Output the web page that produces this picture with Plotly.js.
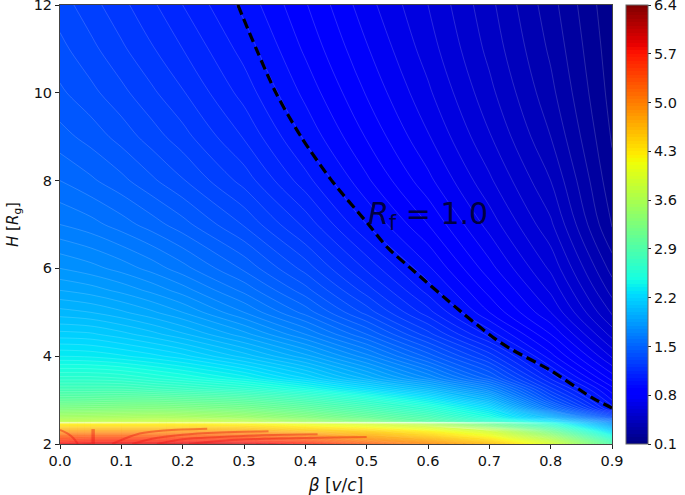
<!DOCTYPE html>
<html>
<head>
<meta charset="utf-8">
<script src="https://cdn.plot.ly/plotly-3.0.1.min.js"></script>
<style>html,body{margin:0;padding:0;background:#fff}#chart{width:685px;height:495px}</style>
</head>
<body>
<div id="chart"></div>
<script>
const betaValues = [0, 0.05, 0.1, 0.15, 0.2, 0.3, 0.4, 0.5, 0.6, 0.7, 0.8, 0.9];
const heightValues = [2, 2.1, 2.2, 2.3, 2.4, 2.47, 2.5, 2.6, 2.8, 3, 3.25, 3.5, 4, 4.5, 5, 5.5, 6, 7, 8, 9, 10, 11, 12];
const reflectionRows = [
  [5.85, 5.90, 5.90, 5.90, 5.95, 5.95, 5.70, 5.30, 4.95, 4.60, 3.95, 2.90],
  [5.50, 5.55, 5.55, 5.55, 5.55, 5.50, 5.30, 4.95, 4.70, 4.35, 3.70, 2.70],
  [5.20, 5.20, 5.20, 5.20, 5.20, 5.15, 4.95, 4.70, 4.45, 4.10, 3.40, 2.45],
  [4.80, 4.80, 4.80, 4.80, 4.80, 4.75, 4.55, 4.45, 4.20, 3.85, 3.10, 2.20],
  [4.40, 4.40, 4.40, 4.40, 4.40, 4.38, 4.25, 4.10, 3.85, 3.30, 2.75, 1.95],
  [4.20, 4.20, 4.20, 4.20, 4.20, 4.15, 4.00, 3.85, 3.55, 3.05, 2.50, 1.78],
  [3.75, 3.76, 3.80, 3.85, 3.85, 3.78, 3.55, 3.30, 3.00, 2.70, 2.35, 1.70],
  [3.55, 3.56, 3.58, 3.60, 3.58, 3.48, 3.30, 3.08, 2.85, 2.50, 2.02, 1.38],
  [3.25, 3.26, 3.27, 3.28, 3.26, 3.18, 3.03, 2.83, 2.60, 2.27, 1.60, 1.03],
  [3.02, 3.03, 3.05, 3.05, 3.02, 2.95, 2.80, 2.60, 2.35, 2.00, 1.38, 0.95],
  [2.80, 2.80, 2.80, 2.76, 2.72, 2.62, 2.46, 2.25, 2.02, 1.72, 1.22, 0.87],
  [2.62, 2.62, 2.60, 2.55, 2.50, 2.38, 2.20, 1.98, 1.75, 1.47, 1.09, 0.78],
  [2.35, 2.34, 2.31, 2.27, 2.22, 2.08, 1.92, 1.72, 1.48, 1.23, 0.92, 0.64],
  [2.17, 2.16, 2.12, 2.07, 2.01, 1.87, 1.70, 1.50, 1.27, 1.03, 0.80, 0.53],
  [2.02, 2.00, 1.96, 1.91, 1.85, 1.70, 1.53, 1.33, 1.12, 0.90, 0.70, 0.44],
  [1.90, 1.875, 1.835, 1.785, 1.725, 1.585, 1.42, 1.225, 1.03, 0.83, 0.64, 0.38],
  [1.80, 1.77, 1.73, 1.68, 1.62, 1.49, 1.33, 1.14, 0.96, 0.77, 0.59, 0.33],
  [1.65, 1.62, 1.575, 1.525, 1.47, 1.345, 1.185, 1.00, 0.85, 0.68, 0.51, 0.245],
  [1.55, 1.51, 1.465, 1.41, 1.355, 1.23, 1.07, 0.91, 0.765, 0.61, 0.45, 0.215],
  [1.47, 1.43, 1.38, 1.325, 1.27, 1.145, 0.99, 0.845, 0.705, 0.555, 0.40, 0.195],
  [1.41, 1.365, 1.315, 1.26, 1.205, 1.08, 0.935, 0.795, 0.66, 0.515, 0.365, 0.18],
  [1.365, 1.315, 1.26, 1.205, 1.15, 1.03, 0.89, 0.755, 0.625, 0.485, 0.34, 0.17],
  [1.325, 1.27, 1.215, 1.16, 1.10, 0.985, 0.855, 0.72, 0.60, 0.465, 0.32, 0.16]
];
const unityBeta = [0.29, 0.32, 0.352, 0.393, 0.443, 0.503, 0.535, 0.572, 0.655, 0.712, 0.738, 0.798, 0.868, 0.9];
const unityHeight = [12, 11, 10, 9, 8, 7, 6.46, 6, 5, 4.37, 4.14, 3.69, 3.05, 2.82];
const moireABeta = [0, 0.012, 0.022, 0.029];
const moireAHeight = [2.32, 2.24, 2.13, 2.0];
const moireBBeta = [0.054, 0.054];
const moireBHeight = [2.0, 2.34];
const moireCBeta = [0.085, 0.105, 0.13, 0.17, 0.24];
const moireCHeight = [2.0, 2.12, 2.24, 2.31, 2.35];
const moireDBeta = [0.118, 0.15, 0.2, 0.26, 0.34];
const moireDHeight = [2.0, 2.12, 2.21, 2.26, 2.29];
const moireEBeta = [0.158, 0.2, 0.26, 0.33, 0.42];
const moireEHeight = [2.0, 2.11, 2.16, 2.2, 2.22];
const moireFBeta = [0.21, 0.27, 0.34, 0.42, 0.5];
const moireFHeight = [2.0, 2.08, 2.12, 2.14, 2.16];
const colorTicks = [0.1, 0.8, 1.5, 2.2, 2.9, 3.6, 4.3, 5.0, 5.7, 6.4];
const colorTickLabels = ['0.1', '0.8', '1.5', '2.2', '2.9', '3.6', '4.3', '5.0', '5.7', '6.4'];
const betaTicks = [0, 0.1, 0.2, 0.3, 0.4, 0.5, 0.6, 0.7, 0.8, 0.9];
const heightTicks = [2, 4, 6, 8, 10, 12];

const jet = [[0,'rgb(0,0,128)'],[0.11,'rgb(0,0,255)'],[0.125,'rgb(0,0,255)'],[0.34,'rgb(0,219,255)'],[0.35,'rgb(0,230,247)'],[0.375,'rgb(21,255,226)'],[0.64,'rgb(239,255,8)'],[0.65,'rgb(247,246,0)'],[0.66,'rgb(255,236,0)'],[0.89,'rgb(255,19,0)'],[0.91,'rgb(232,0,0)'],[1,'rgb(128,0,0)']];
const font = 'DejaVu Sans, sans-serif';
const levels = {start: 0.1, end: 6.4, size: 0.05};

const fill = {
  type: 'contour', x: betaValues, y: heightValues, z: reflectionRows,
  colorscale: jet, zmin: 0.1, zmax: 6.4, zauto: false, autocontour: false,
  contours: Object.assign({coloring: 'fill', showlines: false}, levels),
  line: {width: 0},
  hoverinfo: 'skip',
  colorbar: {
    x: 1.026, xanchor: 'left', xpad: 0, y: 0.5, yanchor: 'middle', ypad: 0,
    thickness: 22, thicknessmode: 'pixels', len: 1, lenmode: 'fraction',
    tickmode: 'array', tickvals: colorTicks, ticktext: colorTickLabels,
    ticks: 'outside', ticklen: 3, tickwidth: 1, tickcolor: '#222',
    ticklabeloverflow: 'allow',
    tickfont: {family: font, size: 14.5, color: '#111'},
    outlinecolor: '#666', outlinewidth: 1
  }
};
const lines = {
  type: 'contour', x: betaValues, y: heightValues, z: reflectionRows,
  showscale: false, autocontour: false,
  contours: Object.assign({coloring: 'none', showlines: true}, levels),
  line: {color: 'rgba(255,255,255,0.27)', width: 0.6, smoothing: 1},
  hoverinfo: 'skip'
};
const moire = [[moireABeta, moireAHeight, 2], [moireBBeta, moireBHeight, 3.5], [moireCBeta, moireCHeight, 2], [moireDBeta, moireDHeight, 2], [moireEBeta, moireEHeight, 2], [moireFBeta, moireFHeight, 2]].map(([x, y, w]) => ({
  type: 'scatter', mode: 'lines', x: x, y: y,
  line: {color: 'rgba(230,20,20,0.42)', width: w, shape: 'spline'},
  hoverinfo: 'skip'
}));
const unity = {
  type: 'scatter', mode: 'lines', x: unityBeta, y: unityHeight,
  line: {color: '#000', width: 3.2, dash: '10px,5px', shape: 'spline', smoothing: 0.8},
  hoverinfo: 'skip'
};
const axisBase = {
  ticks: 'outside', ticklen: 4, tickwidth: 1, tickcolor: '#222',
  showgrid: false, zeroline: false, showline: true, mirror: true,
  linecolor: '#444', linewidth: 1, ticklabeloverflow: 'allow',
  tickfont: {family: font, size: 14.5, color: '#111'}
};
const layout = {
  width: 685, height: 495, showlegend: false,
  paper_bgcolor: '#fff', plot_bgcolor: '#fff',
  margin: {l: 60, r: 72.5, t: 5, b: 51},
  font: {family: font, color: '#111'},
  xaxis: Object.assign({}, axisBase, {
    range: [0, 0.9], tickmode: 'array', tickvals: betaTicks, ticktext: betaTicks.map(v => v.toFixed(1)),
    title: {text: '<i>β</i> [<i>v</i>/<i>c</i>]', font: {family: font, size: 17, color: '#111'}, standoff: 13}
  }),
  yaxis: Object.assign({}, axisBase, {
    range: [2, 12], tickmode: 'array', tickvals: heightTicks, ticktext: heightTicks.map(String),
    title: {text: '<i>H</i> [<i>R</i><sub>g</sub>]', font: {family: font, size: 15, color: '#111'}, standoff: 11}
  }),
  annotations: [{
    xref: 'x', yref: 'y', x: 0.6, y: 7.2, xanchor: 'center', yanchor: 'middle', showarrow: false,
    text: '<i>R</i><sub>f</sub> = 1.0', font: {family: font, size: 30, color: 'rgba(0,0,40,0.9)'}
  }]
};
Plotly.newPlot('chart', [fill, lines].concat(moire, [unity]), layout, {displayModeBar: false, staticPlot: true});
</script>
</body>
</html>
